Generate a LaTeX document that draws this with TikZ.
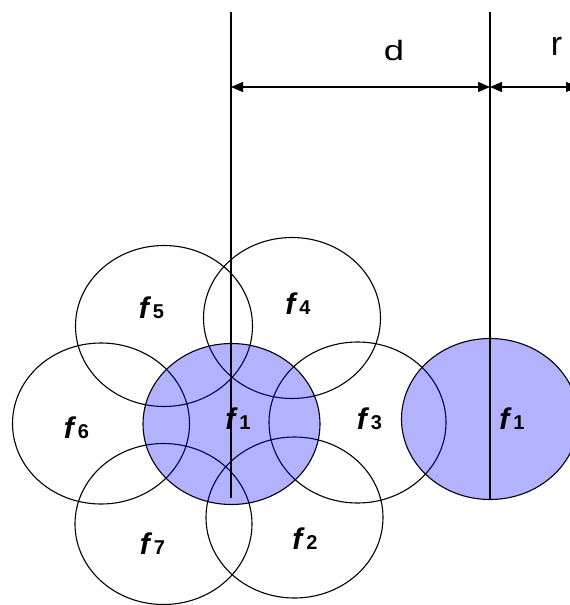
\documentclass[tikz,border=0pt]{standalone}
\usepackage{fontspec}
\setmainfont{Liberation Sans}
\usetikzlibrary{shapes.geometric,arrows.meta}
\newcommand{\flabel}[1]{{\fontsize{30}{32}\selectfont\bfseries\itshape f}\hspace{4pt}{\fontsize{20}{22}\selectfont\bfseries #1}}
\begin{document}
\begin{tikzpicture}[x=1pt,y=-1pt,
  cell/.style={ellipse,draw=black,line width=1.1pt,minimum width=177pt,minimum height=161pt,inner sep=0pt},
  hot/.style={cell,fill=blue,fill opacity=0.3},
  lbl/.style={inner sep=0pt,anchor=base},
  dimline/.style={line width=1.1pt,{Triangle[length=12pt,width=10pt]}-{Triangle[length=12pt,width=10pt]}},
  guide/.style={line width=1.2pt}]
\clip (0,0) rectangle (570,605);
\fill[white] (0,0) rectangle (570,605);
% neighbour cells
\node[cell] (c5) at (164,326) {};
\node[cell] (c4) at (292,318) {};
\node[cell] (c6) at (101,423.5) {};
\node[cell] (c3) at (357.5,422.5) {};
\node[cell] (c7) at (163.5,524) {};
\node[cell] (c2) at (294.5,517.5) {};
% highlighted cells
\node[hot] (c1) at (231.5,424) {};
\node[hot] (r1) at (490,419) {};
% guide lines
\coordinate (top1) at (231,12);
\coordinate (bot1) at (231,498);
\coordinate (top2) at (490,12);
\coordinate (bot2) at (490,499);
\draw[guide] (top1) -- (bot1);
\draw[guide] (top2) -- (bot2);
% dimension arrows
\coordinate (dl) at (231,87);
\coordinate (dm) at (490,87);
\coordinate (dr) at (578,87);
\draw[dimline] (dl) -- (dm);
\draw[dimline] (dm) -- (dr);
\node[lbl] (dlab) at (394,60) {\fontsize{28}{30}\selectfont\scalebox{1.3}[1]{d}};
\node[lbl] (rlab) at (556.5,55) {\fontsize{34}{36}\selectfont r};
% labels
\node[lbl] (l5) at (151.5,318) {\flabel{5}};
\node[lbl] (l4) at (298,314) {\flabel{4}};
\node[lbl] (l6) at (76.5,438) {\flabel{6}};
\node[lbl] (l1) at (238,429) {\flabel{1}};
\node[lbl] (l3) at (369.5,429) {\flabel{3}};
\node[lbl] (l7) at (152.5,554) {\flabel{7}};
\node[lbl] (l2) at (305,549) {\flabel{2}};
\node[lbl] (lr) at (512,429) {\flabel{1}};
\end{tikzpicture}
\end{document}
